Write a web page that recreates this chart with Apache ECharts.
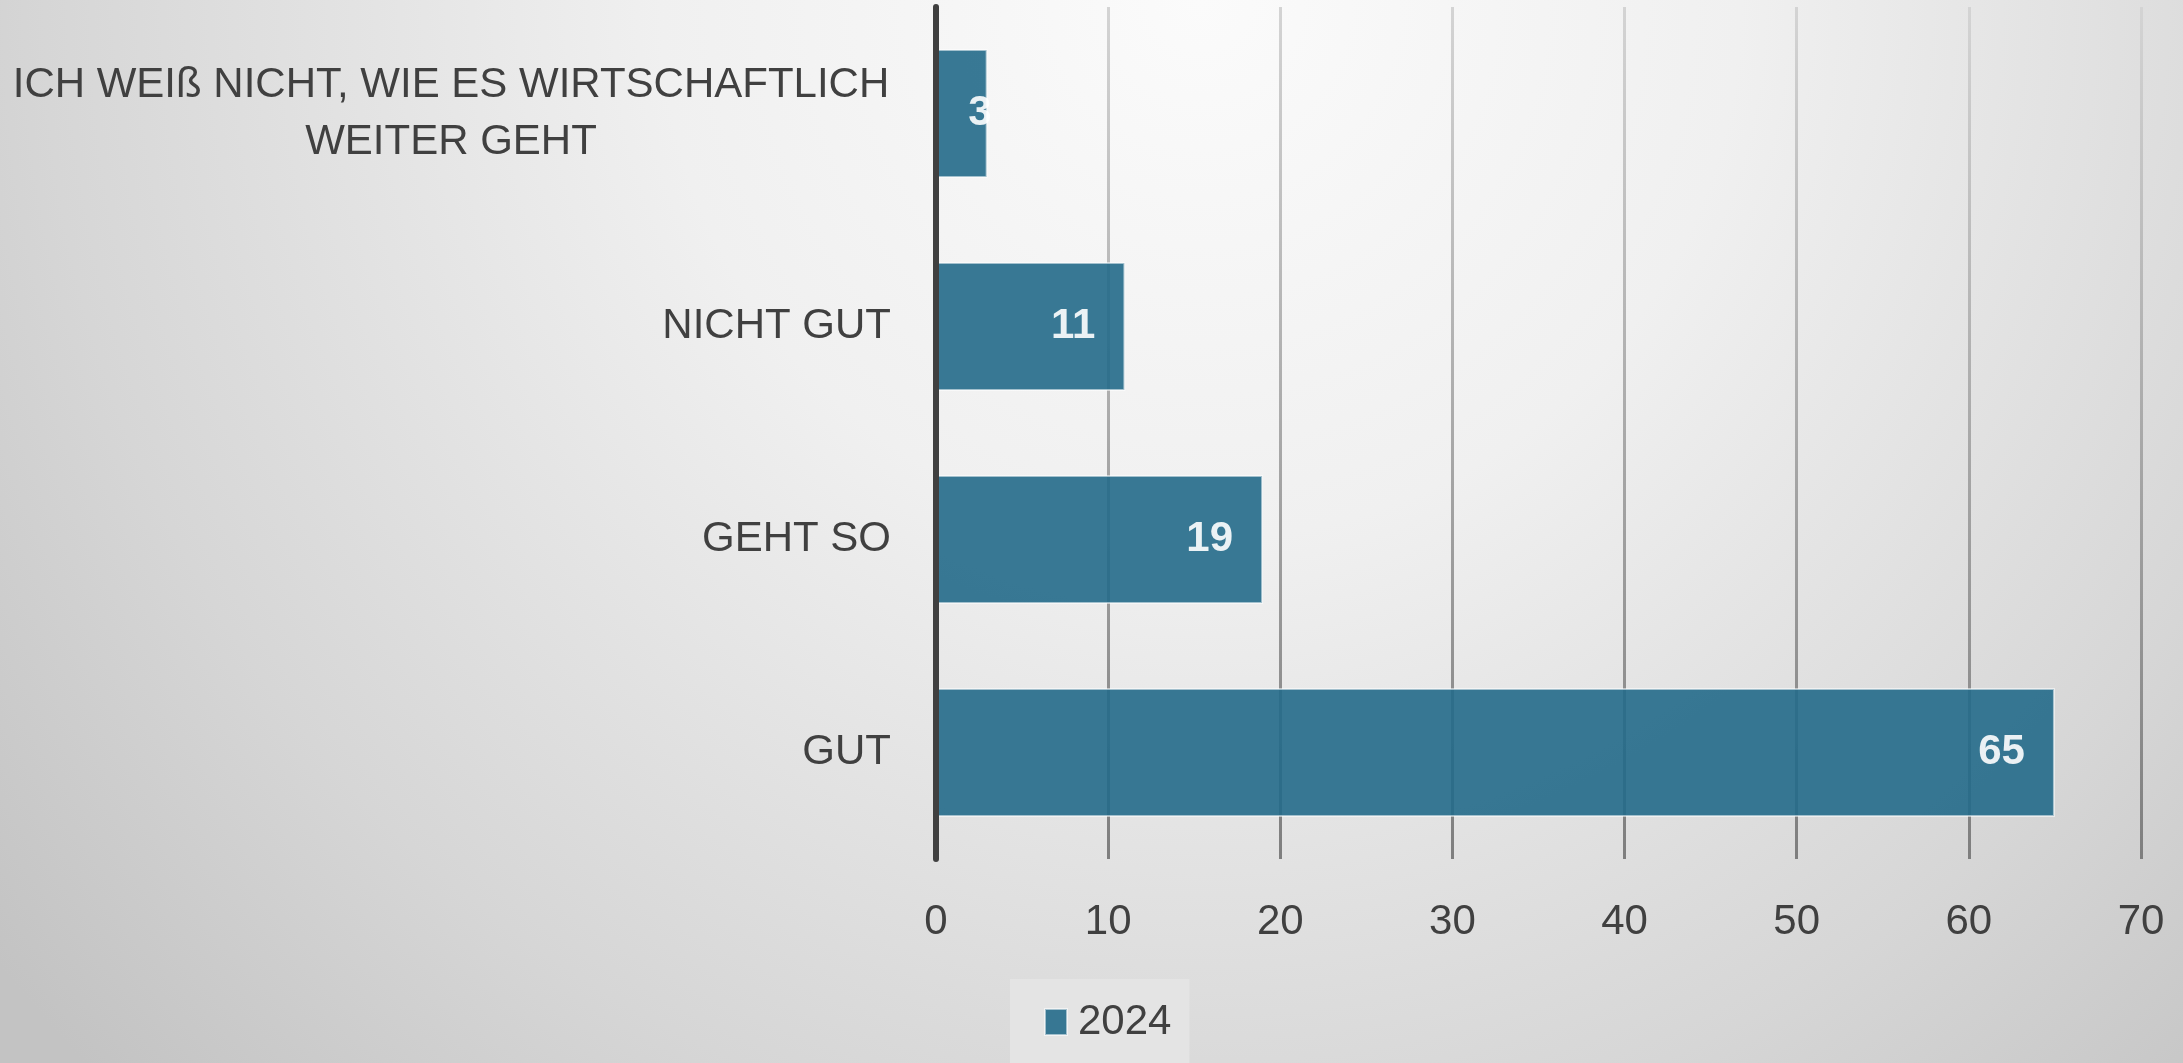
<!DOCTYPE html>
<html>
<head>
<meta charset="utf-8">
<script src="https://cdn.jsdelivr.net/npm/echarts@6/dist/echarts.min.js"></script>
<style>
  html, body { margin: 0; padding: 0; }
  #chart { width: 2183px; height: 1063px; }
</style>
</head>
<body>
<div id="chart"></div>
<script>
// Kategorien von oben nach unten
var categories = ['ICH WEIß NICHT, WIE ES WIRTSCHAFTLICH\nWEITER GEHT', 'NICHT GUT', 'GEHT SO', 'GUT'];
var values2024 = [3, 11, 19, 65];
var seriesName = '2024';
var xTicks = { min: 0, max: 70, interval: 10 };

var textColor = '#404040';
var font = 'Liberation Sans, Arial, sans-serif';

var chart = echarts.init(document.getElementById('chart'));

chart.setOption({
  backgroundColor: {
    type: 'radial', x: 0.55, y: 0, r: 1.45,
    colorStops: [
      { offset: 0, color: '#fbfbfb' },
      { offset: 0.35, color: '#f0f0f0' },
      { offset: 0.75, color: '#d6d6d6' },
      { offset: 1, color: '#c3c3c3' }
    ]
  },
  textStyle: { fontFamily: font },
  grid: { left: 936, right: 42, top: 7, bottom: 204, containLabel: false },
  legend: {
    data: [seriesName],
    left: 1010,
    top: 979,
    padding: [22, 18, 40, 34],
    backgroundColor: '#e4e4e4',
    icon: 'rect',
    itemWidth: 22,
    itemHeight: 26,
    textStyle: { fontSize: 42, color: textColor, fontFamily: font, padding: [0, 0, 0, 6] }
  },
  xAxis: {
    type: 'value',
    min: xTicks.min,
    max: xTicks.max,
    interval: xTicks.interval,
    axisLine: { show: false },
    axisTick: { show: false },
    axisLabel: { fontSize: 42, color: textColor, margin: 42, fontFamily: font },
    splitLine: {
      show: true,
      lineStyle: {
        width: 3,
        color: {
          type: 'linear', x: 0, y: 0, x2: 0, y2: 1,
          colorStops: [
            { offset: 0, color: '#d4d4d4' },
            { offset: 1, color: '#7e7e7e' }
          ]
        }
      }
    }
  },
  yAxis: {
    type: 'category',
    inverse: true,
    data: categories,
    axisLine: { show: true, lineStyle: { color: '#404040', width: 6 } },
    axisTick: { show: false },
    axisLabel: {
      margin: 45,
      fontSize: 42,
      color: textColor,
      fontFamily: font,
      formatter: function (v) {
        // mehrzeilige Beschriftung zentriert
        if (v.indexOf('\n') >= 0) {
          return v.split('\n').map(function (s) { return '{c|' + s + '}'; }).join('\n');
        }
        return v;
      },
      rich: {
        c: { width: 880, align: 'center', fontSize: 42, lineHeight: 57, color: textColor, fontFamily: font }
      }
    },
    z: 5
  },
  series: [
    {
      name: seriesName,
      type: 'bar',
      barCategoryGap: '39.5%',
      itemStyle: {
        color: '#236a8a',
        opacity: 0.9,
        borderColor: 'rgba(255,255,255,0.6)',
        borderWidth: 2
      },
      label: {
        show: true,
        position: 'insideRight',
        distance: 30,
        color: '#ffffff',
        fontWeight: 'bold',
        fontSize: 42,
        fontFamily: font
      },
      data: values2024.map(function (v, i) {
        // kleiner Balken: Zahl ragt über das Balkenende hinaus
        if (i === 0) return { value: v, label: { distance: -4 } };
        return v;
      })
    }
  ]
});
</script>
</body>
</html>
